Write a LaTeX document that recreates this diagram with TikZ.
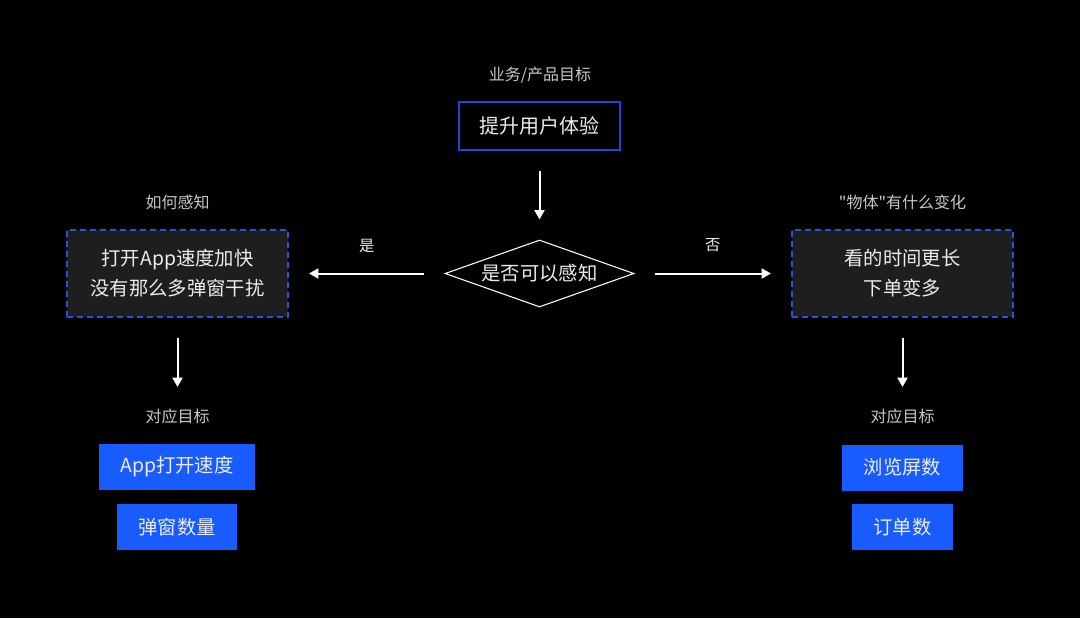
\documentclass[tikz,border=0pt]{standalone}
\usepackage{fontspec}
\newfontfamily\cjk{Noto Sans CJK SC}
\usetikzlibrary{shapes.geometric,arrows.meta}
\definecolor{bgblack}{RGB}{0,0,0}
\definecolor{lineblue}{RGB}{34,68,214}
\definecolor{dashblue}{RGB}{40,82,222}
\definecolor{fillblue}{RGB}{24,92,255}
\definecolor{darkfill}{RGB}{30,30,30}
\definecolor{labelgrey}{RGB}{200,200,200}
\definecolor{textwhite}{RGB}{236,236,236}
\tikzset{
  lbl/.style={font=\cjk\fontsize{12}{14}\selectfont, text=labelgrey, inner sep=0pt},
  yeslbl/.style={font=\cjk\fontsize{11.5}{14}\selectfont, text=textwhite, inner sep=0pt},
  topbox/.style={draw=lineblue, line width=1.5pt, font=\cjk\fontsize{15}{18}\selectfont, text=textwhite, inner sep=0pt},
  dashbox/.style={draw=dashblue, fill=darkfill, line width=1.5pt, dash pattern=on 4.5pt off 3pt, font=\cjk\fontsize{14.5}{22.5}\selectfont, text=textwhite, align=center, inner sep=0pt, minimum width=165.75pt, minimum height=65.25pt},
  goalbox/.style={fill=fillblue, font=\cjk\fontsize{14.5}{18}\selectfont, text=textwhite, inner sep=0pt, minimum height=34.5pt},
  decide/.style={shape=diamond, draw=white, line width=0.8pt, aspect=2.82, inner sep=0pt, minimum width=141.75pt, minimum height=50.25pt, font=\cjk\fontsize{14.5}{18}\selectfont, text=textwhite},
  flow/.style={draw=white, line width=1.5pt, -{Triangle[length=7pt,width=7.5pt]}, shorten <=15pt, shorten >=15pt}
}
\begin{document}
\begin{tikzpicture}[x=0.75pt,y=-0.75pt]
\fill[bgblack] (0,0) rectangle (1080,618);
\useasboundingbox (0,0) rectangle (1080,618);

\node[lbl] (toplbl) at (540,75) {业务/产品目标};
\node[topbox, minimum width=120.75pt, minimum height=36pt] (top) at (539.5,126) {提升用户体验};
\node[decide] (dia) at (539.5,273.5) {是否可以感知};

\node[lbl] (llbl) at (177.5,202) {如何感知};
\node[dashbox] (lbox) at (177.5,273.5) {打开App速度加快\\没有那么多弹窗干扰};
\node[lbl] (rlbl) at (902.5,202) {"物体"有什么变化};
\node[dashbox] (rbox) at (902.5,273.5) {看的时间更长\\下单变多};

\node[lbl] (lgoal) at (177.5,416) {对应目标};
\node[lbl] (rgoal) at (902.5,416) {对应目标};

\node[goalbox, minimum width=117pt] (g1) at (177,467) {App打开速度};
\node[goalbox, minimum width=90pt] (g2) at (177,527) {弹窗数量};
\node[goalbox, minimum width=90.75pt] (g3) at (902.5,467.5) {浏览屏数};
\node[goalbox, minimum width=75.75pt] (g4) at (902.5,527) {订单数};

\draw[flow] (top.south) -- (dia.north);
\draw[flow] (dia.west) -- node[yeslbl, midway, yshift=21pt] (yes) {是} (lbox.east);
\draw[flow] (dia.east) -- node[yeslbl, midway, yshift=21pt] (no) {否} (rbox.west);
\draw[flow, shorten >=21.75pt] (lbox.south) -- (lgoal.center);
\draw[flow, shorten >=21.75pt] (rbox.south) -- (rgoal.center);
\end{tikzpicture}
\end{document}
